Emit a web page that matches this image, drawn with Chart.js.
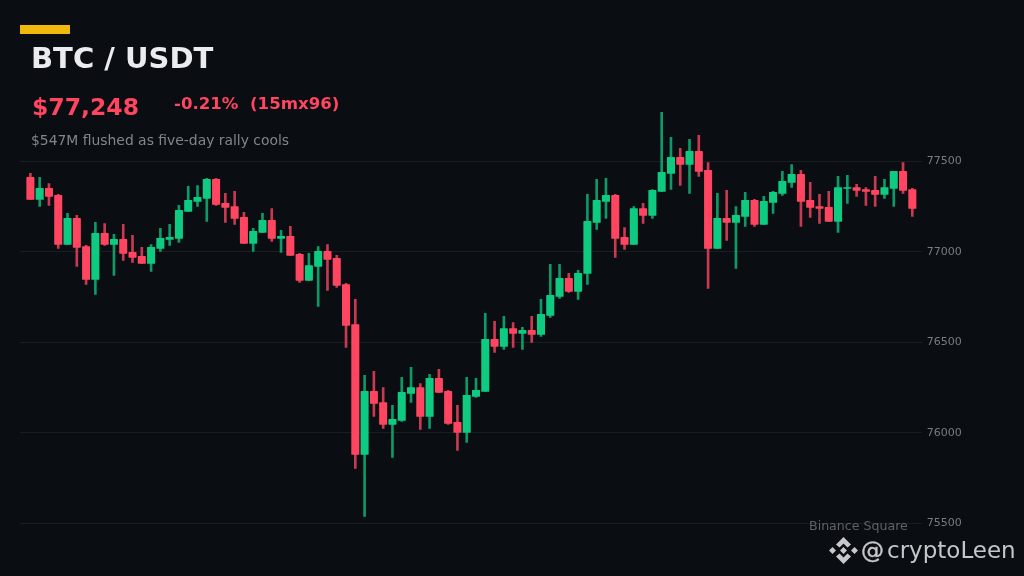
<!DOCTYPE html>
<html>
<head>
<meta charset="utf-8">
<script src="https://cdn.jsdelivr.net/npm/chart.js@4"></script>
<style>
html,body{margin:0;padding:0;background:#0a0d11;width:1024px;height:576px;overflow:hidden;font-family:"DejaVu Sans",sans-serif}
#wrap{position:relative;width:1024px;height:576px}
canvas{position:absolute;left:0;top:0}
.t{position:absolute;white-space:pre;line-height:1}
#bar{position:absolute;left:20px;top:25px;width:50px;height:9px;background:#f0b90b}
</style>
</head>
<body>
<div id="wrap">
<canvas id="c" width="1024" height="576" style="width:1024px;height:576px"></canvas>
<div id="bar"></div>
<div class="t" id="title" style="left:31px;top:44px;font-size:29px;font-weight:bold;color:#eaecef">BTC / USDT</div>
<div class="t" id="price" style="left:32px;top:96px;font-size:23.5px;font-weight:bold;color:#ff4560">$77,248</div>
<div class="t" id="chg" style="left:174px;top:96px;font-size:16.6px;font-weight:bold;color:#ff4560">-0.21%  (15mx96)</div>
<div class="t" id="sub" style="left:31px;top:134px;font-size:13.9px;color:#80868d">$547M flushed as five-day rally cools</div>
<div class="t" id="src" style="left:809px;top:519.5px;font-size:12.6px;color:#5e6369">Binance Square</div>
<svg style="position:absolute;left:829px;top:536px" width="29" height="29" viewBox="0 0 29 29">
<g fill="#c6c8cb">
<path d="M14.5 1 L22 8.5 L18.5 11.5 L14.5 7.5 L10.5 11.5 L7 8.5 Z"/>
<path d="M14.5 28 L22 20.5 L18.5 17.5 L14.5 21.5 L10.5 17.5 L7 20.5 Z"/>
<path d="M14.5 11 L18 14.5 L14.5 18 L11 14.5 Z"/>
<path d="M3.5 11 L7 14.5 L3.5 18 L0 14.5 Z"/>
<path d="M25.5 11 L29 14.5 L25.5 18 L22 14.5 Z"/>
</g>
</svg>
<div class="t" id="at" style="left:861px;top:539px;font-size:23px;color:#c6c8cb;-webkit-text-stroke:0.4px #c6c8cb">@</div>
<div class="t" id="name" style="left:887px;top:539px;font-size:23px;color:#c4c7ca">cryptoLeen</div>
</div>
<script>
const open_ = [77412,77290,77351,77312,77041,77185,77030,76848,77102,77041,77069,76997,76975,76936,77019,77069,77075,77224,77279,77296,77401,77268,77251,77191,77047,77108,77174,77075,77086,76986,76843,76920,77003,76964,76820,76599,75881,76229,76168,76047,76069,76218,76251,76091,76301,76229,76058,76003,76202,76229,76517,76478,76577,76550,76566,76544,76649,76754,76854,76782,76881,77163,77279,77312,77080,77041,77240,77202,77334,77434,77522,77483,77555,77450,77019,77185,77163,77196,77285,77152,77273,77323,77384,77428,77285,77251,77246,77169,77351,77356,77345,77340,77318,77351,77445,77345];
const high_ = [77434,77412,77378,77318,77213,77202,77036,77163,77157,77097,77152,77091,77025,77041,77130,77152,77257,77362,77367,77406,77406,77323,77334,77218,77130,77213,77240,77119,77141,76992,76992,77030,77041,76981,76826,76738,76318,76340,76251,76152,76307,76362,76273,76323,76351,76235,76152,76307,76301,76660,76616,76644,76610,76583,76644,76738,76931,76931,76881,76898,77318,77401,77406,77318,77135,77251,77268,77345,77771,77633,77572,77622,77644,77494,77323,77340,77251,77329,77290,77307,77334,77445,77483,77450,77384,77318,77334,77417,77423,77373,77356,77417,77401,77445,77494,77351];
const low_ = [77290,77251,77257,77019,77041,76920,76820,76765,77036,76870,76953,76942,76936,76892,77003,77036,77052,77224,77251,77169,77257,77163,77152,77047,77003,77108,77058,76997,76981,76831,76843,76699,76787,76804,76472,75804,75539,76091,76025,75865,76064,76168,76019,76025,76224,76047,75903,75947,76196,76229,76445,76461,76472,76461,76500,76533,76638,76743,76776,76738,76820,77124,77185,76970,77014,77041,77157,77185,77334,77345,77367,77323,77417,76798,77019,77064,76909,77141,77141,77152,77213,77312,77356,77141,77191,77157,77169,77108,77268,77307,77257,77251,77296,77251,77323,77196];
const close_ = [77290,77351,77307,77041,77185,77025,76848,77102,77041,77069,76992,76970,76936,77025,77075,77080,77229,77285,77301,77401,77262,77246,77185,77047,77113,77174,77075,77086,76981,76843,76925,77003,76959,76815,76594,75881,76229,76163,76047,76075,76224,76251,76091,76301,76224,76052,76003,76207,76235,76517,76478,76577,76550,76566,76544,76655,76760,76854,76782,76881,77169,77285,77312,77075,77041,77240,77202,77340,77439,77522,77483,77555,77445,77019,77185,77163,77202,77285,77152,77279,77329,77390,77428,77279,77246,77240,77169,77356,77356,77340,77334,77318,77356,77445,77340,77240];
const yTicks = [75500,76000,76500,77000,77500];

const UP = '#0ecb81', DOWN = '#ff4560', UPW = '#0c9a66', DOWNW = '#c93a52';
const up = open_.map((o,i)=>close_[i]>=o);
const bodies = open_.map((o,i)=>({x:i,y:[Math.min(o,close_[i]),Math.max(o,close_[i])]}));
const wicks = high_.map((h,i)=>({x:i,y:[low_[i],h]}));

new Chart(document.getElementById('c'),{
  type:'bar',
  data:{datasets:[
    {data:bodies,order:0,grouped:false,barThickness:7.4,backgroundColor:up.map(u=>u?UP:DOWN),borderWidth:0,borderRadius:0.6,borderSkipped:false},
    {data:wicks,order:1,grouped:false,barThickness:2,backgroundColor:up.map(u=>u?UPW:DOWNW),borderWidth:0}
  ]},
  options:{
    responsive:false,animation:false,devicePixelRatio:1,
    layout:{padding:{left:20,right:0,top:107.1,bottom:34.5}},
    plugins:{legend:{display:false},tooltip:{enabled:false}},
    scales:{
      x:{type:'linear',offset:false,min:-1.12,max:96.01,display:false,grid:{display:false}},
      y:{position:'right',min:75400,max:77800,
        afterFit:s=>{s.width=102.3},
        afterBuildTicks:s=>{s.ticks=yTicks.map(v=>({value:v}))},
        grid:{color:'#1a1e22',lineWidth:1,drawTicks:false},
        border:{display:false},
        ticks:{padding:5,color:'#787c82',font:{family:'"DejaVu Sans"',size:11},callback:v=>String(v)}
      }
    }
  }
});
</script>
</body>
</html>
